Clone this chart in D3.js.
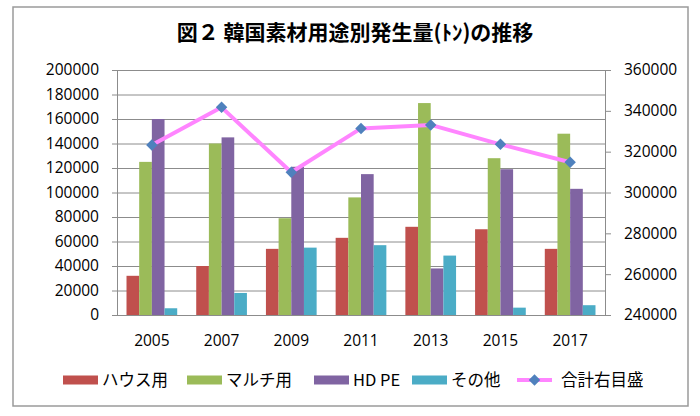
<!DOCTYPE html>
<html><head><meta charset="utf-8">
<script src="https://cdn.jsdelivr.net/npm/d3@7"></script>
<style>body{margin:0;background:#fff}svg{display:block}</style>
</head><body>
<svg id="c" width="700" height="416"></svg>
<script>
// ---- data ----
const titleText = "図２ 韓国素材用途別発生量(ﾄﾝ)の推移";
const years = ["2005","2007","2009","2011","2013","2015","2017"];
const seriesNames = ["ハウス用","マルチ用","HD PE","その他"];
const house = [32000,40000,54000,63000,72000,70000,54000];
const mulch = [125000,140000,79000,96000,173000,128000,148000];
const hdpe  = [160000,145000,121000,115000,38000,119000,103000];
const other = [5500,18000,55000,57000,48500,6000,8000];
const totalName = "合計右目盛";
const total = [323300,341700,309900,331400,333100,323600,314800];
const leftTicks = [0,20000,40000,60000,80000,100000,120000,140000,160000,180000,200000];
const rightTicks = [240000,260000,280000,300000,320000,340000,360000];

const seriesValues = [house, mulch, hdpe, other];
const colors = ["#C0504D","#9BBB59","#8064A2","#4BACC6"];
const lineColor = "#FF85FF", markerColor = "#4F81BD";
const numFont = "'Open Sans', 'DejaVu Sans', sans-serif";
const jpFont = "'Noto Sans CJK JP', sans-serif";

const svg = d3.select("#c");
const L = 117, R = 605, T = 70, B = 315;

// outer border
svg.append("rect").attr("x",13).attr("y",7).attr("width",675).attr("height",399)
  .attr("fill","#fff").attr("stroke","#9a9a9a").attr("stroke-width",1.5);

// title
svg.append("text").attr("x",355).attr("y",40).attr("text-anchor","middle")
  .attr("font-family",jpFont).attr("font-weight",700).attr("font-size",21)
  .attr("fill","#000").text(titleText);

const x0 = d3.scaleBand().domain(years).range([L,R]).padding(0);
const x1 = d3.scaleBand().domain(d3.range(seriesNames.length))
  .range([0,x0.bandwidth()]).paddingInner(0).paddingOuter(0.75);
const yL = d3.scaleLinear().domain([0,200000]).range([B,T]);
const yR = d3.scaleLinear().domain([240000,360000]).range([B,T]);

// gridlines
svg.append("g").attr("transform",`translate(${L},0)`)
  .call(d3.axisLeft(yL).tickValues(leftTicks).tickSize(-(R-L)).tickFormat(""))
  .call(g=>{g.select(".domain").remove();g.selectAll("line").attr("stroke","#8c8c8c").attr("stroke-width",1);});

// bars
const bars = svg.append("g");
seriesValues.forEach((vals,si)=>{
  bars.selectAll(null).data(vals).join("rect")
    .attr("x",(d,i)=>x0(years[i])+x1(si))
    .attr("width",x1.bandwidth())
    .attr("y",d=>yL(d))
    .attr("height",d=>B-yL(d))
    .attr("fill",colors[si]);
});

// left axis
svg.append("g").attr("transform",`translate(${L},0)`)
  .call(d3.axisLeft(yL).tickValues(leftTicks).tickSize(5).tickPadding(13).tickFormat(d3.format("d")))
  .call(g=>{g.select(".domain").attr("stroke","#8c8c8c");g.selectAll("line").attr("stroke","#8c8c8c");
    g.selectAll("text").attr("font-family",numFont).attr("font-size",15.5).attr("fill","#000");});

// right axis
svg.append("g").attr("transform",`translate(${R},0)`)
  .call(d3.axisRight(yR).tickValues(rightTicks).tickSize(6).tickPadding(13).tickFormat(d3.format("d")))
  .call(g=>{g.select(".domain").attr("stroke","#8c8c8c");g.selectAll("line").attr("stroke","#8c8c8c");
    g.selectAll("text").attr("font-family",numFont).attr("font-size",15.5).attr("fill","#000");});

// bottom axis
svg.append("g").attr("transform",`translate(0,${B})`)
  .call(d3.axisBottom(x0).tickSize(0).tickPadding(20))
  .call(g=>{g.select(".domain").attr("stroke","#8c8c8c");
    g.selectAll("text").attr("font-family",numFont).attr("font-size",15.5).attr("fill","#000");});

// total line
const cx = i => x0(years[i]) + x0.bandwidth()/2;
svg.append("path").datum(total)
  .attr("d", d3.line().x((d,i)=>cx(i)).y(d=>yR(d)))
  .attr("fill","none").attr("stroke",lineColor).attr("stroke-width",4).attr("stroke-linejoin","round");
const diamond = d3.symbol().type(d3.symbolSquare).size(66);
svg.append("g").selectAll("path").data(total).join("path")
  .attr("d",diamond).attr("transform",(d,i)=>`translate(${cx(i)},${yR(d)}) rotate(45)`)
  .attr("fill",markerColor);

// legend
const legX = [63,187,314,412,517];
const ly = 380;
const leg = svg.append("g");
seriesNames.forEach((n,i)=>{
  leg.append("rect").attr("x",legX[i]).attr("y",ly-4.5).attr("width",35).attr("height",9).attr("fill",colors[i]);
  leg.append("text").attr("x",legX[i]+39).attr("y",ly).attr("dy","0.36em")
    .attr("font-family",jpFont).attr("font-size",16.5).attr("fill","#000").text(n);
});
leg.append("line").attr("x1",legX[4]).attr("x2",legX[4]+35).attr("y1",ly).attr("y2",ly)
  .attr("stroke",lineColor).attr("stroke-width",4);
leg.append("path").attr("d",diamond).attr("transform",`translate(${legX[4]+17.5},${ly}) rotate(45)`).attr("fill",markerColor);
leg.append("text").attr("x",legX[4]+44).attr("y",ly).attr("dy","0.36em")
  .attr("font-family",jpFont).attr("font-size",16.5).attr("fill","#000").text(totalName);
</script>
</body></html>
